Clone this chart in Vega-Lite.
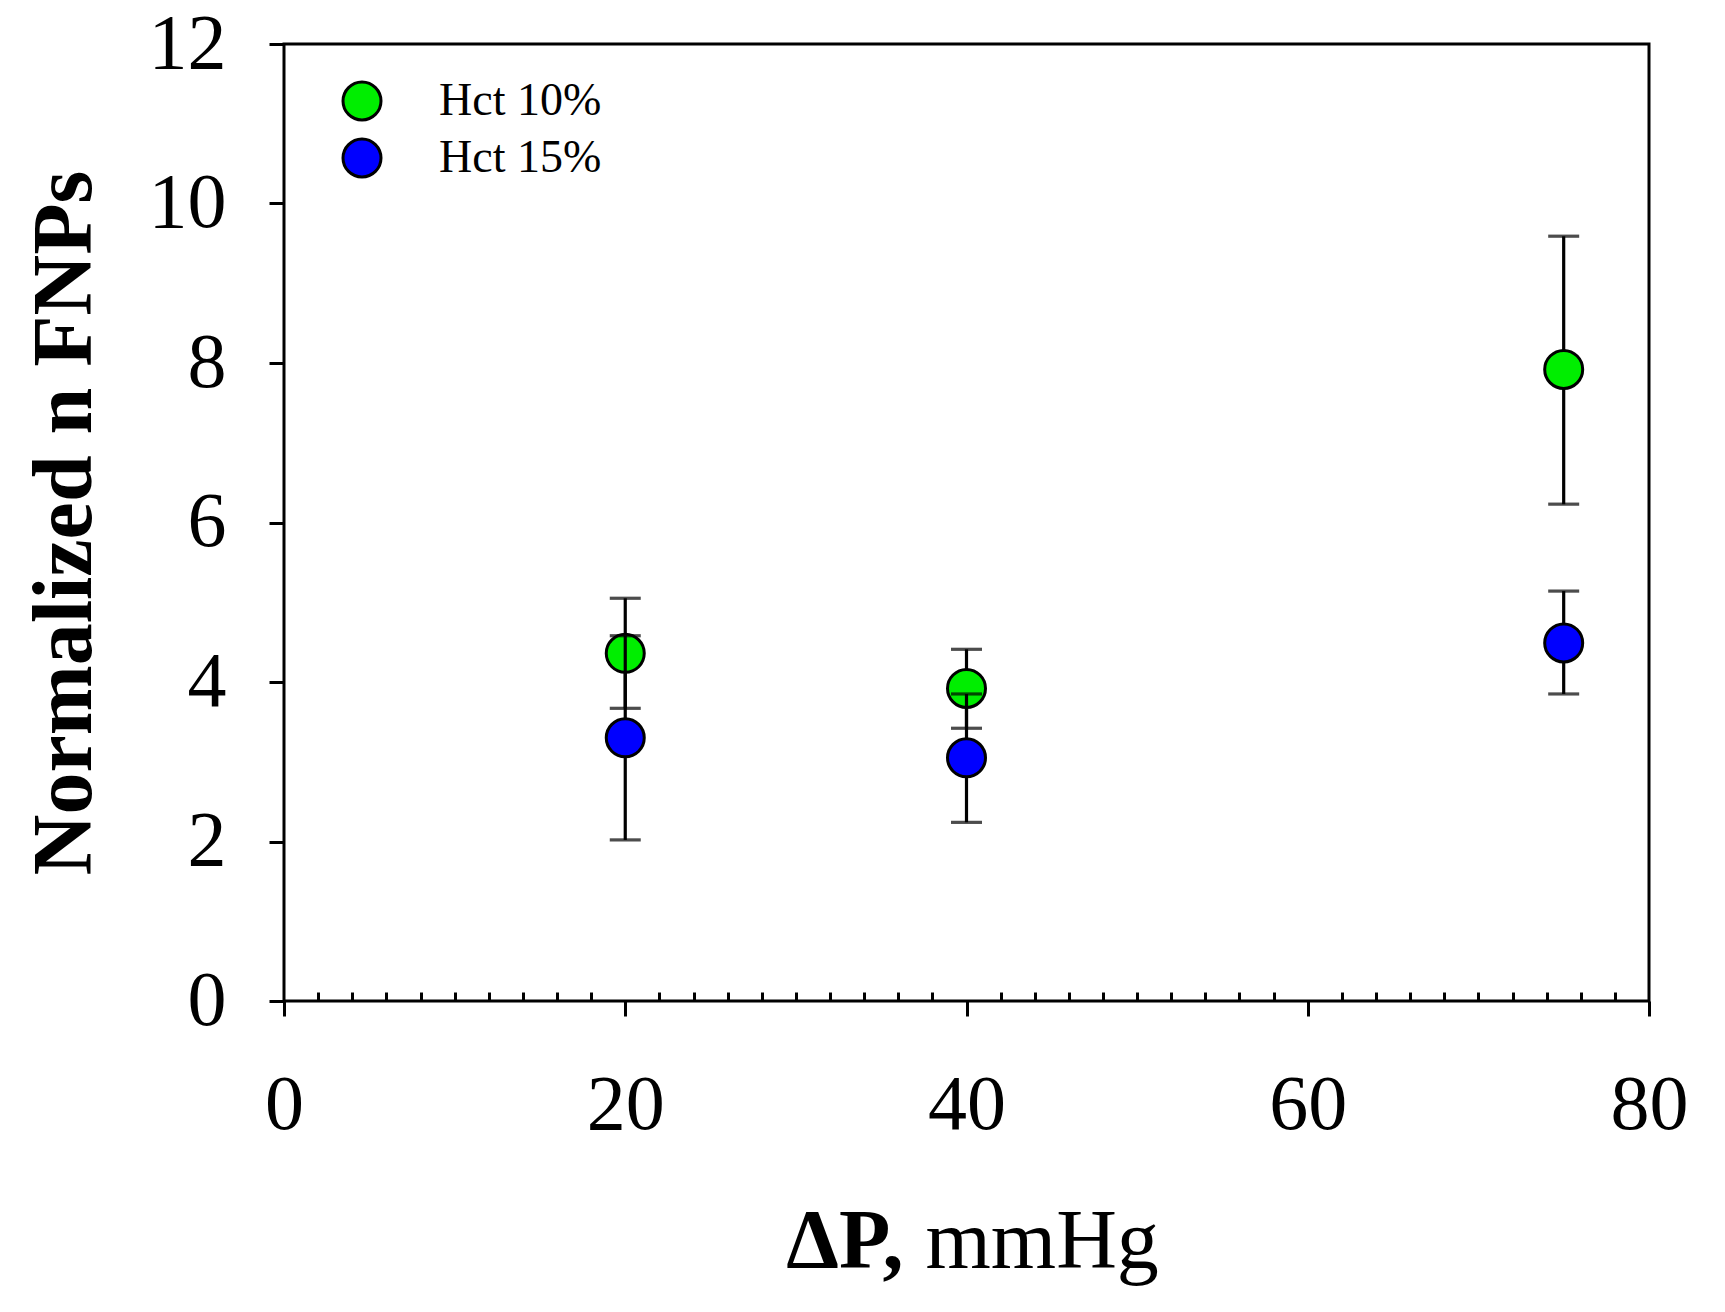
{
  "$schema": "https://vega.github.io/schema/vega-lite/v6.json",
  "width": 1365,
  "height": 957,
  "autosize": "none",
  "padding": {"left": 284, "top": 44, "right": 76, "bottom": 311},
  "background": "white",
  "data": {
    "values": [
      {"group": "Hct 10%", "dp": 20, "mean": 4.36, "lo": 3.67, "hi": 5.05},
      {"group": "Hct 10%", "dp": 40, "mean": 3.92, "lo": 3.42, "hi": 4.41},
      {"group": "Hct 10%", "dp": 75, "mean": 7.92, "lo": 6.23, "hi": 9.59},
      {"group": "Hct 15%", "dp": 20, "mean": 3.30, "lo": 2.02, "hi": 4.58},
      {"group": "Hct 15%", "dp": 40, "mean": 3.05, "lo": 2.24, "hi": 3.85},
      {"group": "Hct 15%", "dp": 75, "mean": 4.49, "lo": 3.85, "hi": 5.14}
    ]
  },
  "layer": [
    {
      "transform": [{"filter": {"field": "group", "equal": "Hct 10%"}}],
      "encoding": {
        "x": {
          "field": "dp", "type": "quantitative",
          "scale": {"domain": [0, 80], "nice": false},
          "axis": {
            "orient": "bottom",
            "values": [0, 20, 40, 60, 80],
            "tickSize": 15,
            "labelPadding": 50,
            "labelOverlap": false,
            "labelFlush": false,
            "title": "ΔP,",
            "titleFontWeight": "bold",
            "titleAlign": "right",
            "titleX": 619,
            "titleY": 266,
            "titleBaseline": "alphabetic"
          }
        }
      },
      "layer": [
        {
          "mark": {"type": "rule", "strokeWidth": 3.2, "color": "black"},
          "encoding": {
            "y": {"field": "lo", "type": "quantitative", "title": "Normalized n FNPs", "scale": {"domain": [0, 12], "nice": false}},
            "y2": {"field": "hi"}
          }
        },
        {
          "mark": {"type": "tick", "orient": "horizontal", "size": 31, "thickness": 3.2, "color": "black"},
          "encoding": {"y": {"field": "lo", "type": "quantitative", "title": "Normalized n FNPs"}}
        },
        {
          "mark": {"type": "tick", "orient": "horizontal", "size": 31, "thickness": 3.2, "color": "black"},
          "encoding": {"y": {"field": "hi", "type": "quantitative", "title": "Normalized n FNPs"}}
        },
        {
          "mark": {"type": "point", "filled": true, "shape": "circle", "size": 1444, "stroke": "black", "strokeWidth": 3, "opacity": 1},
          "encoding": {
            "y": {"field": "mean", "type": "quantitative", "title": "Normalized n FNPs"},
            "color": {
              "field": "group", "type": "nominal",
              "scale": {"domain": ["Hct 10%", "Hct 15%"], "range": ["#00ee00", "#0000ff"]},
              "legend": {"orient": "none", "legendX": 55, "legendY": 34, "title": null}
            }
          }
        }
      ]
    },
    {
      "transform": [{"filter": {"field": "group", "equal": "Hct 15%"}}],
      "encoding": {
        "x": {
          "field": "dp", "type": "quantitative",
          "scale": {"domain": [0, 80], "nice": false},
          "axis": {
            "orient": "bottom",
            "values": [2, 4, 6, 8, 10, 12, 14, 16, 18, 22, 24, 26, 28, 30, 32, 34, 36, 38, 42, 44, 46, 48, 50, 52, 54, 56, 58, 62, 64, 66, 68, 70, 72, 74, 76, 78],
            "tickSize": -9,
            "labels": false,
            "title": "mmHg",
            "titleFontWeight": "normal",
            "titleAlign": "left",
            "titleX": 641,
            "titleY": 266,
            "titleBaseline": "alphabetic"
          }
        }
      },
      "layer": [
        {
          "mark": {"type": "rule", "strokeWidth": 3.2, "color": "black"},
          "encoding": {
            "y": {"field": "lo", "type": "quantitative", "title": "Normalized n FNPs"},
            "y2": {"field": "hi"}
          }
        },
        {
          "mark": {"type": "tick", "orient": "horizontal", "size": 31, "thickness": 3.2, "color": "black"},
          "encoding": {"y": {"field": "lo", "type": "quantitative", "title": "Normalized n FNPs"}}
        },
        {
          "mark": {"type": "tick", "orient": "horizontal", "size": 31, "thickness": 3.2, "color": "black"},
          "encoding": {"y": {"field": "hi", "type": "quantitative", "title": "Normalized n FNPs"}}
        },
        {
          "mark": {"type": "point", "filled": true, "shape": "circle", "size": 1444, "stroke": "black", "strokeWidth": 3, "opacity": 1},
          "encoding": {
            "y": {"field": "mean", "type": "quantitative", "title": "Normalized n FNPs"},
            "color": {
              "field": "group", "type": "nominal",
              "legend": {"orient": "none", "legendX": 55, "legendY": 34, "title": null}
            }
          }
        }
      ]
    }
  ],
  "resolve": {"axis": {"x": "independent"}},
  "config": {
    "view": {"stroke": "black", "strokeWidth": 3},
    "font": "Liberation Serif",
    "axis": {
      "labelFont": "Liberation Serif",
      "titleFont": "Liberation Serif",
      "labelFontSize": 78,
      "titleFontSize": 84,
      "labelColor": "black",
      "titleColor": "black",
      "tickColor": "black",
      "tickWidth": 3,
      "grid": false,
      "domain": false
    },
    "axisY": {
      "tickCount": 6,
      "tickSize": 15,
      "labelPadding": 43,
      "labelOverlap": false,
      "labelFlush": false,
      "titleFontWeight": "bold",
      "titleAngle": -90,
      "titleAlign": "center",
      "titleX": -194,
      "titleY": 478.5,
      "titleBaseline": "alphabetic"
    },
    "legend": {
      "labelFont": "Liberation Serif",
      "labelFontSize": 46,
      "labelColor": "black",
      "labelLimit": 400,
      "labelOffset": 54,
      "rowPadding": 7,
      "padding": 0,
      "symbolType": "circle",
      "symbolSize": 1444,
      "symbolStrokeColor": "black",
      "symbolStrokeWidth": 3,
      "symbolOpacity": 1
    }
  }
}
